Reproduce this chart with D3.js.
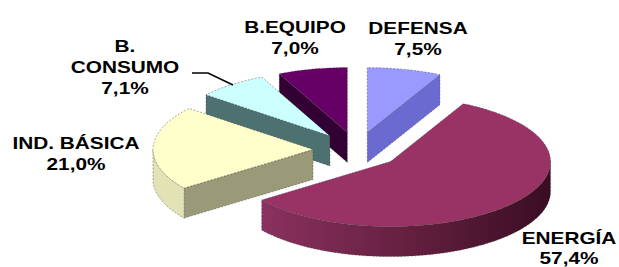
<!DOCTYPE html>
<html><head><meta charset="utf-8">
<script src="https://cdn.jsdelivr.net/npm/d3@7"></script>
<style>body{margin:0;background:#fff}svg{display:block}</style>
</head><body><svg id="c" width="619" height="267"></svg>
<script>
// ---- data (clockwise from 12 o'clock) ----
const categories = ["DEFENSA", "ENERGÍA", "IND. BÁSICA", "B. CONSUMO", "B.EQUIPO"];
const values = [7.5, 57.4, 21.0, 7.1, 7.0];
const valueLabels = ["7,5%", "57,4%", "21,0%", "7,1%", "7,0%"];
const topColors = ["#9999ff", "#993366", "#ffffcc", "#ccffff", "#660066"];
const cutColors = ["#6a6ad0", "#5a1d3c", "#9a9a78", "#4d7070", "#330033"];
const sideColors = ["#6666cc", "url(#enGrad)", "#e2e2b4", "#6f9f9f", "#440044"];

// ---- layout ----
const cx = 357, cy = 150, rx = 160, ry = 65, depth = 30, explode = 0.275;
const labelLayout = [
  {x: 418, y: 34, dy: 21, lines: ["DEFENSA"]},
  {x: 569, y: 244, dy: 20, lines: ["ENERGÍA"]},
  {x: 76, y: 149, dy: 21, lines: ["IND. BÁSICA"]},
  {x: 125, y: 52, dy: 21, lines: ["B.", "CONSUMO"]},
  {x: 295, y: 33, dy: 21, lines: ["B.EQUIPO"]}
];

const svg = d3.select("#c");
const defs = svg.append("defs");
const g1 = defs.append("linearGradient").attr("id", "enGrad").attr("x1", "0").attr("x2", "1").attr("y1", "0").attr("y2", "0");
g1.append("stop").attr("offset", "0").attr("stop-color", "#8a3160");
g1.append("stop").attr("offset", "0.5").attr("stop-color", "#65203f");
g1.append("stop").attr("offset", "1").attr("stop-color", "#3a0d24");

const arcs = d3.pie().sort(null).value(d => d).startAngle(0).endAngle(2 * Math.PI)(values);

function P(a, ox, oy, z) { return [ox + rx * Math.sin(a), oy - ry * Math.cos(a) + z]; }
function arcPts(a0, a1, ox, oy, z) {
  const n = Math.max(4, Math.ceil((a1 - a0) / 0.02));
  return d3.range(n + 1).map(i => P(a0 + (a1 - a0) * i / n, ox, oy, z));
}
const line = d3.line();
const path = pts => line(pts) + "Z";

const slices = arcs.map((a, i) => {
  const mid = (a.startAngle + a.endAngle) / 2;
  const ox = cx + explode * rx * Math.sin(mid);
  const oy = cy - explode * ry * Math.cos(mid);
  return {a, i, ox, oy};
});
slices.sort((p, q) => p.oy - q.oy);

const edge = {stroke: "#3a3a3a", "stroke-width": 0.7, "stroke-dasharray": "2 1.5", "stroke-opacity": 0.6};
function draw(pts, fill) {
  const p = svg.append("path").attr("d", path(pts)).attr("fill", fill);
  Object.entries(edge).forEach(([k, v]) => p.attr(k, v));
}

slices.forEach(({a, i, ox, oy}) => {
  const s = a.startAngle, e = a.endAngle;
  // radial cut faces
  [[s, s - Math.PI / 2], [e, e + Math.PI / 2]].forEach(([ang, nrm]) => {
    if (Math.cos(nrm) < -0.01) {
      const r0 = P(ang, ox, oy, 0);
      draw([[ox, oy], r0, [r0[0], r0[1] + depth], [ox, oy + depth]], cutColors[i]);
    }
  });
  // outer curved side (front half)
  const lo = Math.max(s, Math.PI / 2), hi = Math.min(e, 3 * Math.PI / 2);
  if (hi > lo) {
    draw(arcPts(lo, hi, ox, oy, 0).concat(arcPts(lo, hi, ox, oy, depth).reverse()), sideColors[i]);
  }
  // top face
  draw([[ox, oy]].concat(arcPts(s, e, ox, oy, 0)), topColors[i]);
});

// leader line for B. CONSUMO
svg.append("path").attr("d", line([[192, 73], [208, 73], [233, 85]]))
  .attr("fill", "none").attr("stroke", "#000").attr("stroke-width", 1.6);

// labels
labelLayout.forEach((L, i) => {
  const lines = L.lines.concat([valueLabels[i]]);
  lines.forEach((t, k) => {
    svg.append("text")
      .attr("transform", `translate(${L.x},${L.y + k * L.dy}) scale(1.3,1)`)
      .attr("text-anchor", "middle")
      .attr("font-family", "'Liberation Sans', Arial, sans-serif")
      .attr("font-weight", "bold")
      .attr("font-size", 16)
      .attr("fill", "#000")
      .text(t);
  });
});
</script></body></html>
